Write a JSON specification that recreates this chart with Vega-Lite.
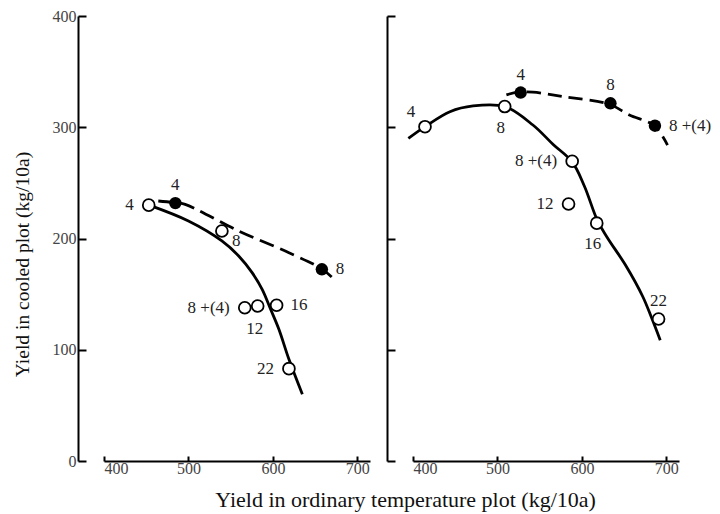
{
  "$schema": "https://vega.github.io/schema/vega-lite/v6.json",
  "padding": {"left": 12, "top": 8, "right": 5, "bottom": 5},
  "background": "white",
  "title": {"text": "Yield in ordinary temperature plot (kg/10a)", "orient": "bottom", "anchor": "middle", "fontSize": 22, "font": "Liberation Serif", "fontWeight": "normal", "color": "#111", "offset": 14, "dx": 44},
  "config": {
    "font": "Liberation Serif",
    "view": {"stroke": null},
    "concat": {"spacing": 16},
    "axis": {"domainColor": "#000", "domainWidth": 2, "tickColor": "#000", "tickWidth": 2, "grid": false, "labelFont": "Liberation Serif", "labelFontSize": 16, "labelColor": "#444", "titleFont": "Liberation Serif", "titleFontSize": 19.5, "titleFontWeight": "normal", "titleColor": "#111"},
    "axisX": {"tickSize": -5, "labelPadding": 4},
    "axisY": {"tickSize": -8, "labelPadding": 10, "titlePadding": 20}
  },
  "datasets": {
    "pts": [
      {"year": 1976, "kind": "open", "x": 453, "y": 230, "label": "4", "pos": "left"},
      {"year": 1976, "kind": "open", "x": 539.6, "y": 206.7, "label": "8", "pos": "rightbelow"},
      {"year": 1976, "kind": "open", "x": 566.7, "y": 137.8, "label": "8 +(4)", "pos": "left"},
      {"year": 1976, "kind": "open", "x": 582, "y": 139.3, "label": "12", "pos": "below"},
      {"year": 1976, "kind": "open", "x": 604.4, "y": 140, "label": "16", "pos": "right"},
      {"year": 1976, "kind": "open", "x": 619, "y": 83, "label": "22", "pos": "left"},
      {"year": 1976, "kind": "filled", "x": 484.5, "y": 231.8, "label": "4", "pos": "above"},
      {"year": 1976, "kind": "filled", "x": 658, "y": 172.3, "label": "8", "pos": "right"},
      {"year": 1977, "kind": "open", "x": 414.2, "y": 300.5, "label": "4", "pos": "aboveleft"},
      {"year": 1977, "kind": "open", "x": 508.6, "y": 318.6, "label": "8", "pos": "below"},
      {"year": 1977, "kind": "open", "x": 588.5, "y": 269.4, "label": "8 +(4)", "pos": "left"},
      {"year": 1977, "kind": "open", "x": 584.2, "y": 231, "label": "12", "pos": "left"},
      {"year": 1977, "kind": "open", "x": 617.6, "y": 213.8, "label": "16", "pos": "below"},
      {"year": 1977, "kind": "open", "x": 690.8, "y": 127.6, "label": "22", "pos": "above"},
      {"year": 1977, "kind": "filled", "x": 527.5, "y": 331.2, "label": "4", "pos": "above"},
      {"year": 1977, "kind": "filled", "x": 633.8, "y": 321.5, "label": "8", "pos": "above"},
      {"year": 1977, "kind": "filled", "x": 686.5, "y": 301.4, "label": "8 +(4)", "pos": "right"}
    ],
    "crv": [
      {"year": 1976, "style": "solid", "x": 455, "y": 229.5},
      {"year": 1976, "style": "solid", "x": 500, "y": 215.7},
      {"year": 1976, "style": "solid", "x": 539.6, "y": 197.8},
      {"year": 1976, "style": "solid", "x": 559.5, "y": 184.3},
      {"year": 1976, "style": "solid", "x": 575.4, "y": 169.3},
      {"year": 1976, "style": "solid", "x": 587.3, "y": 154.3},
      {"year": 1976, "style": "solid", "x": 597.3, "y": 136.4},
      {"year": 1976, "style": "solid", "x": 607.1, "y": 118.4},
      {"year": 1976, "style": "solid", "x": 619, "y": 91.4},
      {"year": 1976, "style": "solid", "x": 634.9, "y": 60},
      {"year": 1976, "style": "dashed", "x": 464.3, "y": 233.7},
      {"year": 1976, "style": "dashed", "x": 484.2, "y": 232.2},
      {"year": 1976, "style": "dashed", "x": 496.1, "y": 230.7},
      {"year": 1976, "style": "dashed", "x": 559.5, "y": 206.7},
      {"year": 1976, "style": "dashed", "x": 619, "y": 187.2},
      {"year": 1976, "style": "dashed", "x": 658.7, "y": 172.3},
      {"year": 1976, "style": "dashed", "x": 674.6, "y": 161.8},
      {"year": 1977, "style": "solid", "x": 394.5, "y": 289.9},
      {"year": 1977, "style": "solid", "x": 414.2, "y": 300.5},
      {"year": 1977, "style": "solid", "x": 443.7, "y": 314},
      {"year": 1977, "style": "solid", "x": 471.2, "y": 319.2},
      {"year": 1977, "style": "solid", "x": 508.6, "y": 318.6},
      {"year": 1977, "style": "solid", "x": 542, "y": 302},
      {"year": 1977, "style": "solid", "x": 566, "y": 284.5},
      {"year": 1977, "style": "solid", "x": 588.5, "y": 268.8},
      {"year": 1977, "style": "solid", "x": 603, "y": 247},
      {"year": 1977, "style": "solid", "x": 618.5, "y": 216},
      {"year": 1977, "style": "solid", "x": 630, "y": 201},
      {"year": 1977, "style": "solid", "x": 652.3, "y": 175.3},
      {"year": 1977, "style": "solid", "x": 671.9, "y": 148.1},
      {"year": 1977, "style": "solid", "x": 682.2, "y": 129.4},
      {"year": 1977, "style": "solid", "x": 692.8, "y": 108.6},
      {"year": 1977, "style": "dashed", "x": 510.6, "y": 329.1},
      {"year": 1977, "style": "dashed", "x": 524.3, "y": 331.5},
      {"year": 1977, "style": "dashed", "x": 542, "y": 331.5},
      {"year": 1977, "style": "dashed", "x": 577.5, "y": 327.6},
      {"year": 1977, "style": "dashed", "x": 632.6, "y": 320.6},
      {"year": 1977, "style": "dashed", "x": 656.2, "y": 311},
      {"year": 1977, "style": "dashed", "x": 685.7, "y": 301.4},
      {"year": 1977, "style": "dashed", "x": 701.4, "y": 283.9}
    ]
  },
  "hconcat": [
    {
      "width": 266, "height": 445,
      "encoding": {
        "x": {"field": "x", "type": "quantitative", "scale": {"domain": [400, 715], "nice": false, "zero": false}, "axis": {"values": [400, 500, 600, 700], "title": null}},
        "y": {"field": "y", "type": "quantitative", "scale": {"domain": [0, 400], "nice": false}, "axis": {"values": [0, 100, 200, 300, 400], "offset": 26, "title": "Yield in cooled plot  (kg/10a)", "titleY": 248}}
      },
      "layer": [
        {"data": {"name": "crv"}, "transform": [{"filter": "datum.year == 1976 && datum.style == 'solid'"}], "mark": {"type": "line", "color": "#000", "strokeWidth": 2.8, "interpolate": "catmull-rom"}},
        {"data": {"name": "crv"}, "transform": [{"filter": "datum.year == 1976 && datum.style == 'dashed'"}], "mark": {"type": "line", "color": "#000", "strokeWidth": 2.8, "strokeDash": [15, 7], "interpolate": "catmull-rom"}},
        {"data": {"name": "pts"}, "transform": [{"filter": "datum.year == 1976 && datum.kind == 'open'"}], "mark": {"type": "circle", "size": 140, "fill": "white", "stroke": "#000", "strokeWidth": 1.8, "opacity": 1}},
        {"data": {"name": "pts"}, "transform": [{"filter": "datum.year == 1976 && datum.kind == 'filled'"}], "mark": {"type": "circle", "size": 155, "fill": "#000", "opacity": 1}},
        {"data": {"name": "pts"}, "transform": [{"filter": "datum.year == 1976 && datum.pos == 'left'"}], "mark": {"type": "text", "align": "right", "baseline": "middle", "dx": -15, "fontSize": 17, "color": "#222"}, "encoding": {"text": {"field": "label"}}},
        {"data": {"name": "pts"}, "transform": [{"filter": "datum.year == 1976 && datum.pos == 'right'"}], "mark": {"type": "text", "align": "left", "baseline": "middle", "dx": 14, "fontSize": 17, "color": "#222"}, "encoding": {"text": {"field": "label"}}},
        {"data": {"name": "pts"}, "transform": [{"filter": "datum.year == 1976 && datum.pos == 'above'"}], "mark": {"type": "text", "align": "center", "baseline": "middle", "dy": -18, "fontSize": 17, "color": "#222"}, "encoding": {"text": {"field": "label"}}},
        {"data": {"name": "pts"}, "transform": [{"filter": "datum.year == 1976 && datum.pos == 'below'"}], "mark": {"type": "text", "align": "center", "baseline": "middle", "dx": -3, "dy": 23, "fontSize": 17, "color": "#222"}, "encoding": {"text": {"field": "label"}}},
        {"data": {"name": "pts"}, "transform": [{"filter": "datum.year == 1976 && datum.pos == 'rightbelow'"}], "mark": {"type": "text", "align": "left", "baseline": "middle", "dx": 10, "dy": 10, "fontSize": 17, "color": "#222"}, "encoding": {"text": {"field": "label"}}},
        {"mark": {"type": "text", "fontSize": 18, "color": "#111", "baseline": "middle"}, "encoding": {"x": {"datum": 470}, "y": {"datum": 394.6}, "text": {"value": "1976"}}}
      ]
    },
    {
      "width": 266, "height": 445,
      "encoding": {
        "x": {"field": "x", "type": "quantitative", "scale": {"domain": [400, 715], "nice": false, "zero": false}, "axis": {"values": [400, 500, 600, 700], "title": null}},
        "y": {"field": "y", "type": "quantitative", "scale": {"domain": [0, 400], "nice": false}, "axis": {"values": [0, 100, 200, 300, 400], "offset": 26, "title": null, "labels": false}}
      },
      "layer": [
        {"data": {"name": "crv"}, "transform": [{"filter": "datum.year == 1977 && datum.style == 'solid'"}], "mark": {"type": "line", "color": "#000", "strokeWidth": 2.8, "interpolate": "catmull-rom"}},
        {"data": {"name": "crv"}, "transform": [{"filter": "datum.year == 1977 && datum.style == 'dashed'"}], "mark": {"type": "line", "color": "#000", "strokeWidth": 2.8, "strokeDash": [14, 7], "interpolate": "catmull-rom"}},
        {"data": {"name": "pts"}, "transform": [{"filter": "datum.year == 1977 && datum.kind == 'open'"}], "mark": {"type": "circle", "size": 140, "fill": "white", "stroke": "#000", "strokeWidth": 1.8, "opacity": 1}},
        {"data": {"name": "pts"}, "transform": [{"filter": "datum.year == 1977 && datum.kind == 'filled'"}], "mark": {"type": "circle", "size": 155, "fill": "#000", "opacity": 1}},
        {"data": {"name": "pts"}, "transform": [{"filter": "datum.year == 1977 && datum.pos == 'left'"}], "mark": {"type": "text", "align": "right", "baseline": "middle", "dx": -15, "fontSize": 17, "color": "#222"}, "encoding": {"text": {"field": "label"}}},
        {"data": {"name": "pts"}, "transform": [{"filter": "datum.year == 1977 && datum.pos == 'right'"}], "mark": {"type": "text", "align": "left", "baseline": "middle", "dx": 14, "fontSize": 17, "color": "#222"}, "encoding": {"text": {"field": "label"}}},
        {"data": {"name": "pts"}, "transform": [{"filter": "datum.year == 1977 && datum.pos == 'above'"}], "mark": {"type": "text", "align": "center", "baseline": "middle", "dy": -18, "fontSize": 17, "color": "#222"}, "encoding": {"text": {"field": "label"}}},
        {"data": {"name": "pts"}, "transform": [{"filter": "datum.year == 1977 && datum.pos == 'below'"}], "mark": {"type": "text", "align": "center", "baseline": "middle", "dx": -4, "dy": 21, "fontSize": 17, "color": "#222"}, "encoding": {"text": {"field": "label"}}},
        {"data": {"name": "pts"}, "transform": [{"filter": "datum.year == 1977 && datum.pos == 'aboveleft'"}], "mark": {"type": "text", "align": "center", "baseline": "middle", "dx": -14, "dy": -15, "fontSize": 17, "color": "#222"}, "encoding": {"text": {"field": "label"}}},
        {"mark": {"type": "text", "fontSize": 18, "color": "#111", "baseline": "middle"}, "encoding": {"x": {"datum": 485}, "y": {"datum": 394.6}, "text": {"value": "1977"}}}
      ]
    }
  ]
}
